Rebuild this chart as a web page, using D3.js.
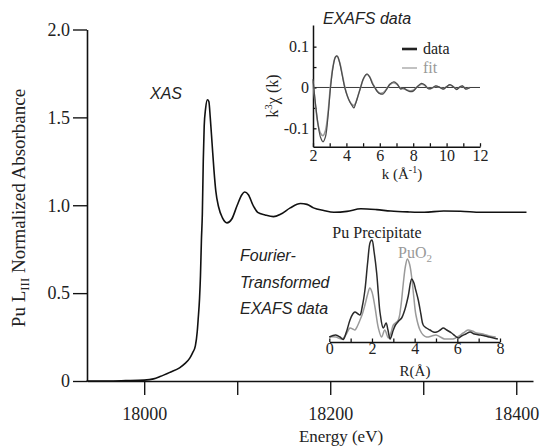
<!DOCTYPE html>
<html><head><meta charset="utf-8">
<script src="https://cdn.jsdelivr.net/npm/d3@7"></script>
<style>body{margin:0;background:#fff}svg{display:block}</style>
</head><body>
<svg id="c" width="543" height="446"></svg>
<script>
// ---- Main XAS spectrum ----
const xasEnergy = [17938,17960,17980,18000,18010,18017,18028,18038,18044,18049,18052,18055,18057,18058,18059.5,18060.5,18061.5,18062.5,18063.5,18064.5,18066,18068,18069.5,18071,18073,18075,18077,18080,18084,18089,18094,18100,18105,18108,18112,18117,18122,18130,18139,18147,18157,18168,18175,18182,18193,18204,18218,18233,18250,18265,18285,18301,18322,18340,18362,18385,18411];
const xasAbs = [0,0,0.002,0.005,0.012,0.025,0.05,0.075,0.1,0.13,0.16,0.2,0.28,0.35,0.47,0.6,0.8,0.95,1.25,1.45,1.55,1.6,1.59,1.5,1.35,1.2,1.08,0.99,0.93,0.9,0.92,1.0,1.06,1.075,1.06,1.0,0.96,0.945,0.935,0.95,0.985,1.01,1.005,0.985,0.97,0.96,0.965,0.98,0.975,0.967,0.962,0.96,0.967,0.966,0.96,0.96,0.96];
const xasYTicks = [0,0.5,1.0,1.5,2.0];
const xasYTickLabels = ["0","0.5","1.0","1.5","2.0"];
const xasXTicks = [18000,18100,18200,18300,18400];
const xasXTickLabels = ["18000","","18200","","18400"];

// ---- EXAFS inset ----
const exK = [2.0,2.15,2.3,2.45,2.6,2.75,2.9,3.05,3.2,3.35,3.45,3.6,3.75,3.9,4.05,4.2,4.35,4.45,4.55,4.7,4.85,5.0,5.15,5.25,5.4,5.55,5.7,5.85,6.0,6.2,6.4,6.6,6.85,7.05,7.25,7.4,7.6,7.8,8.0,8.25,8.5,8.7,8.9,9.1,9.35,9.6,9.8,10.0,10.2,10.4,10.6,10.8,10.95,11.15,11.4];
const exData = [0.02,-0.04,-0.09,-0.122,-0.133,-0.12,-0.07,0.0,0.05,0.075,0.077,0.06,0.03,0.0,-0.02,-0.035,-0.045,-0.05,-0.04,-0.02,0.0,0.02,0.031,0.033,0.025,0.01,0.0,-0.01,-0.015,-0.016,-0.005,0.008,0.014,0.008,-0.004,-0.001,-0.006,-0.01,-0.009,0.002,0.01,0.006,-0.003,-0.002,0.004,0.0,-0.004,0.002,0.007,0.002,-0.005,0.002,0.004,-0.004,0.0];
const exFit = [0.015,-0.045,-0.09,-0.112,-0.118,-0.105,-0.062,0.005,0.052,0.075,0.076,0.061,0.032,0.002,-0.02,-0.034,-0.042,-0.044,-0.038,-0.02,0.0,0.019,0.03,0.032,0.026,0.012,0.0,-0.009,-0.014,-0.013,-0.004,0.007,0.012,0.007,-0.002,-0.003,-0.006,-0.008,-0.007,0.002,0.008,0.005,-0.002,-0.002,0.003,0.0,-0.003,0.002,0.006,0.002,-0.004,0.001,0.003,-0.003,0.0];
const exXTicks = [2,3,4,5,6,7,8,9,10,11,12];
const exXTickLabels = ["2","","4","","6","","8","","10","","12"];
const exYTicks = [-0.1,-0.05,0,0.05,0.1];
const exYTickLabels = ["-0.1","","0","","0.1"];

// ---- Fourier transform inset ----
const ftRprec = [0,0.3,0.5,0.65,0.8,0.97,1.1,1.2,1.35,1.44,1.55,1.67,1.8,1.92,2.0,2.1,2.22,2.3,2.38,2.53,2.66,2.75,2.85,3.0,3.1,3.25,3.39,3.55,3.7,3.86,3.95,4.05,4.17,4.3,4.4,4.55,4.72,4.88,5.03,5.2,5.34,5.5,5.73,5.9,6.05,6.2,6.4,6.6,6.8,7.06,7.3,7.5,7.7,7.9];
const ftPrec = [0.05,0.07,0.05,0.025,0.1,0.22,0.28,0.3,0.28,0.27,0.36,0.52,0.8,1.0,1.02,0.9,0.69,0.48,0.29,0.14,0.19,0.12,0.03,0.12,0.17,0.21,0.24,0.33,0.46,0.63,0.6,0.52,0.42,0.27,0.17,0.14,0.12,0.1,0.1,0.12,0.14,0.12,0.09,0.06,0.04,0.06,0.08,0.1,0.08,0.07,0.06,0.05,0.04,0.03];
const ftRoxide = [0,0.3,0.6,0.8,0.97,1.1,1.2,1.32,1.44,1.55,1.67,1.8,1.9,2.0,2.14,2.3,2.45,2.6,2.77,2.9,3.0,3.23,3.35,3.47,3.57,3.66,3.76,3.86,3.96,4.06,4.25,4.4,4.56,4.8,5.0,5.2,5.4,5.6,5.8,6.0,6.28,6.5,6.7,6.9,7.2,7.5,7.8];
const ftOxide = [0.05,0.05,0.03,0.08,0.14,0.13,0.12,0.16,0.22,0.28,0.37,0.48,0.54,0.5,0.35,0.14,0.05,0.12,0.04,0.1,0.17,0.22,0.35,0.59,0.76,0.83,0.78,0.65,0.45,0.27,0.12,0.07,0.05,0.06,0.07,0.05,0.03,0.03,0.03,0.05,0.09,0.12,0.11,0.09,0.08,0.06,0.05];
const ftXTicks = [0,1,2,3,4,5,6,7,8];
const ftXTickLabels = ["0","","2","","4","","6","","8"];

const svg = d3.select("#c");
const SERIF = "'Liberation Serif','Times New Roman',serif";
const SANS = "'Liberation Sans',Arial,sans-serif";
const ink = "#111";

function styleAxis(g, size, sw){
  g.attr("font-family", SERIF).attr("font-size", size);
  g.select(".domain").attr("stroke",ink).attr("stroke-width",sw);
  g.selectAll(".tick line").attr("stroke",ink).attr("stroke-width",sw*0.85);
  g.selectAll("text").style("font-family",SERIF).style("font-size",size+"px").attr("fill","#222");
}

// ===== Main chart =====
const x = d3.scaleLinear().domain([17938.5, 18418]).range([87, 533]);
const y = d3.scaleLinear().domain([0, 2]).range([381, 29.5]);

const gy = svg.append("g").attr("transform","translate(87,0)")
  .call(d3.axisLeft(y).tickValues(xasYTicks).tickFormat((d,i)=>xasYTickLabels[i]).tickSize(14).tickPadding(3).tickSizeOuter(0));
const gx = svg.append("g").attr("transform","translate(0,381)")
  .call(d3.axisBottom(x).tickValues(xasXTicks).tickFormat((d,i)=>xasXTickLabels[i]).tickSize(14).tickPadding(12).tickSizeOuter(0));
styleAxis(gx,18,1.6); styleAxis(gy,18,1.6);

svg.append("path")
  .datum(xasEnergy.map((e,i)=>[e,xasAbs[i]]))
  .attr("fill","none").attr("stroke",ink).attr("stroke-width",1.6)
  .attr("d", d3.line().x(d=>x(d[0])).y(d=>y(d[1])).curve(d3.curveMonotoneX));

svg.append("text").attr("x",341).attr("y",442).attr("text-anchor","middle")
  .style("font-family",SERIF).style("font-size","17px").attr("fill","#222").text("Energy (eV)");

const yl = svg.append("text").attr("transform","translate(25,208) rotate(-90)").attr("text-anchor","middle")
  .style("font-family",SERIF).style("font-size","19px").attr("fill","#222");
yl.append("tspan").text("Pu L");
yl.append("tspan").style("font-size","13px").attr("dy",4).text("III");
yl.append("tspan").attr("dy",-4).text(" Normalized Absorbance");

svg.append("text").attr("x",150).attr("y",99).style("font-family",SANS).style("font-style","italic")
  .style("font-size","16px").attr("fill","#222").text("XAS");

const ftLbl = ["Fourier-","Transformed","EXAFS data"];
ftLbl.forEach((t,i)=>svg.append("text").attr("x",240).attr("y",261+i*26.5)
  .style("font-family",SANS).style("font-style","italic").style("font-size","16px").attr("fill","#222").text(t));

// ===== EXAFS inset =====
const ex = d3.scaleLinear().domain([2,12]).range([313,480]);
const ey = d3.scaleLinear().domain([-0.145,0.153]).range([146.7,25]);

const egx = svg.append("g").attr("transform","translate(0,146.7)")
  .call(d3.axisBottom(ex).tickValues(exXTicks).tickFormat((d,i)=>exXTickLabels[i]).tickSizeInner(-3.5).tickSizeOuter(0).tickPadding(4));
const egy = svg.append("g").attr("transform","translate(313,0)")
  .call(d3.axisLeft(ey).tickValues(exYTicks).tickFormat((d,i)=>exYTickLabels[i]).tickSizeInner(-3.5).tickSizeOuter(0).tickPadding(4));
styleAxis(egx,16,1.5); styleAxis(egy,16,1.5);
egx.selectAll("text").attr("y",3).attr("dy","0.71em");
egy.selectAll(".tick text").attr("x",-4);

svg.append("line").attr("x1",ex(2)).attr("x2",ex(12)).attr("y1",ey(0)).attr("y2",ey(0))
  .attr("stroke","#222").attr("stroke-width",0.9);

const exLine = d3.line().x(d=>ex(d[0])).y(d=>ey(d[1])).curve(d3.curveCatmullRom.alpha(0.5));
svg.append("path").datum(exK.map((k,i)=>[k,exFit[i]]))
  .attr("fill","none").attr("stroke","#9a9a9a").attr("stroke-width",1.6).attr("d",exLine);
svg.append("path").datum(exK.map((k,i)=>[k,exData[i]]))
  .attr("fill","none").attr("stroke","#4a4a4a").attr("stroke-width",1.2).attr("d",exLine);

svg.append("text").attr("x",323).attr("y",24).style("font-family",SANS).style("font-style","italic")
  .style("font-size","16px").attr("fill","#222").text("EXAFS data");

// legend
svg.append("line").attr("x1",402).attr("x2",417).attr("y1",49).attr("y2",49).attr("stroke","#222").attr("stroke-width",2.6);
svg.append("text").attr("x",423).attr("y",54).style("font-family",SERIF).style("font-size","16px").attr("fill","#222").text("data");
svg.append("line").attr("x1",402).attr("x2",417).attr("y1",68).attr("y2",68).attr("stroke","#999").attr("stroke-width",1.2);
svg.append("text").attr("x",423).attr("y",73).style("font-family",SERIF).style("font-size","16px").attr("fill","#999").text("fit");

const kl = svg.append("text").attr("x",402).attr("y",179).attr("text-anchor","middle")
  .style("font-family",SERIF).style("font-size","15px").attr("fill","#222");
kl.append("tspan").text("k (Å");
kl.append("tspan").style("font-size","10px").attr("dy",-6).text("-1");
kl.append("tspan").attr("dy",6).text(")");

const cl = svg.append("text").attr("transform","translate(278,96) rotate(-90)").attr("text-anchor","middle")
  .style("font-family",SERIF).style("font-size","16px").attr("fill","#222");
cl.append("tspan").text("k");
cl.append("tspan").style("font-size","11px").attr("dy",-6).text("3");
cl.append("tspan").attr("dy",6).text("χ (k)");

// ===== FT inset =====
const fx = d3.scaleLinear().domain([0,8]).range([329.3,500]);
const fy = d3.scaleLinear().domain([0,1]).range([342,242]);

const fgx = svg.append("g").attr("transform","translate(0,342)")
  .call(d3.axisBottom(fx).tickValues(ftXTicks).tickFormat((d,i)=>ftXTickLabels[i]).tickSizeInner(-3.5).tickSizeOuter(0).tickPadding(4));
styleAxis(fgx,16,1.5);
fgx.selectAll("text").attr("y",1).attr("dy","0.71em");

const ftLine = d3.line().x(d=>fx(d[0])).y(d=>fy(d[1])).curve(d3.curveCatmullRom.alpha(0.5));
svg.append("path").datum(ftRoxide.map((r,i)=>[r,ftOxide[i]]))
  .attr("fill","none").attr("stroke","#9a9a9a").attr("stroke-width",1.5).attr("d",ftLine);
svg.append("path").datum(ftRprec.map((r,i)=>[r,ftPrec[i]]))
  .attr("fill","none").attr("stroke","#2a2a2a").attr("stroke-width",1.5).attr("d",ftLine);

svg.append("text").attr("x",377).attr("y",238).attr("text-anchor","middle")
  .style("font-family",SERIF).style("font-size","16px").attr("fill","#222").text("Pu Precipitate");
const po = svg.append("text").attr("x",398).attr("y",258)
  .style("font-family",SERIF).style("font-size","16px").attr("fill","#999");
po.append("tspan").text("PuO");
po.append("tspan").style("font-size","11px").attr("dy",4).text("2");

svg.append("text").attr("x",415).attr("y",376).attr("text-anchor","middle")
  .style("font-family",SERIF).style("font-size","15px").attr("fill","#222").text("R(Å)");
</script>
</body></html>
